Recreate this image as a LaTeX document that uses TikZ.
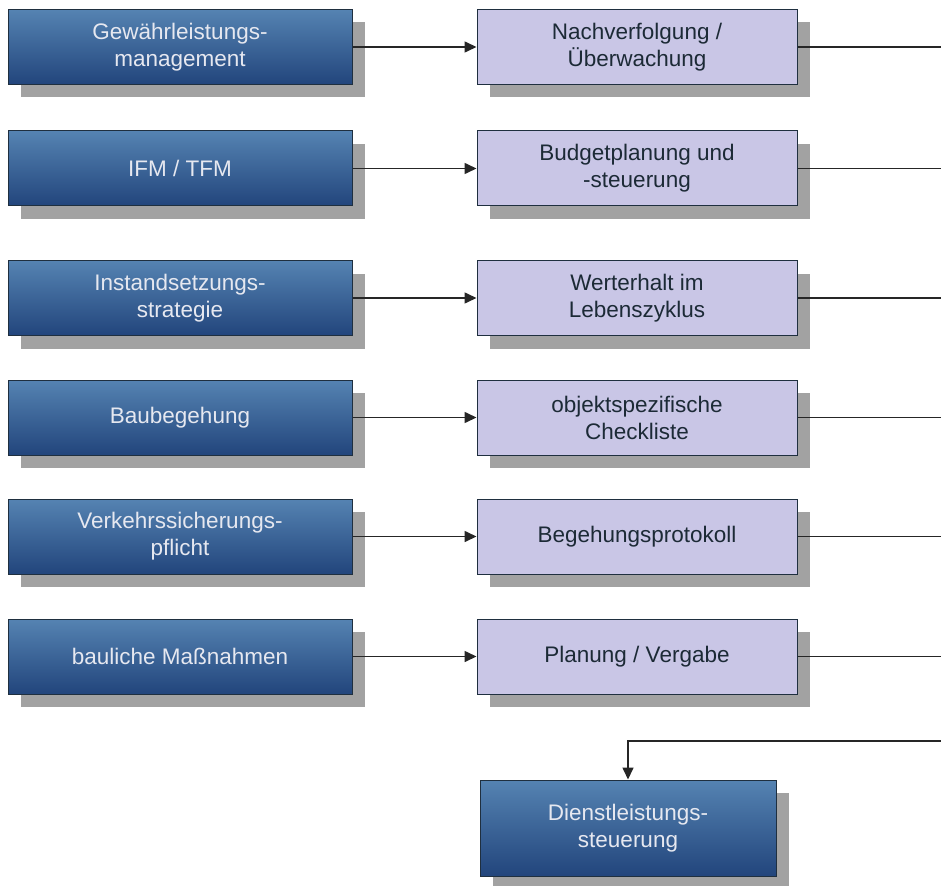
\documentclass[tikz,border=0pt]{standalone}
\usepackage{fontspec}
\setmainfont{Liberation Sans}
\usetikzlibrary{arrows.meta,shadows}
\definecolor{bluetop}{HTML}{5583B2}
\definecolor{bluebot}{HTML}{22457C}
\definecolor{lav}{HTML}{C9C6E6}
\definecolor{shadowgray}{HTML}{A2A2A2}
\definecolor{edgedark}{HTML}{1F2F3F}
\definecolor{lighttext}{HTML}{E6E8F0}
\definecolor{darktext}{HTML}{1C2A36}
\tikzset{
  x=1pt,y=-1pt,
  shadowed/.style={drop shadow={shadow xshift=13pt,shadow yshift=-13pt,fill=shadowgray,opacity=1}},
  bluebox/.style={shadowed,draw=edgedark,line width=1pt,top color=bluetop,bottom color=bluebot,
    text=lighttext,align=center,minimum height=75pt,inner sep=0pt,
    font=\fontsize{22.5}{27}\selectfont},
  lavbox/.style={shadowed,draw=edgedark,line width=1pt,fill=lav,
    text=darktext,align=center,minimum width=320pt,minimum height=75pt,inner sep=0pt,
    font=\fontsize{22.5}{27}\selectfont},
  leftbox/.style={bluebox,minimum width=344pt},
  conn/.style={line width=1.6pt,draw=black!85},
  arr/.style={conn,-{Triangle[length=12pt,width=11pt]}}
}
\begin{document}
\begin{tikzpicture}
\useasboundingbox (0,0) rectangle (941,885);
% left boxes
\node[leftbox] (l1) at (180,47) {Gewährleistungs-\\management};
\node[leftbox] (l2) at (180,168.5) {IFM / TFM};
\node[leftbox] (l3) at (180,298) {Instandsetzungs-\\strategie};
\node[leftbox] (l4) at (180,417.5) {Baubegehung};
\node[leftbox] (l5) at (180,536.5) {Verkehrssicherungs-\\pflicht};
\node[leftbox] (l6) at (180,656.5) {bauliche Maßnahmen};
% right boxes
\node[lavbox] (r1) at (637,47) {Nachverfolgung /\\Überwachung};
\node[lavbox] (r2) at (637,168.5) {Budgetplanung und\\-steuerung};
\node[lavbox] (r3) at (637,298) {Werterhalt im\\Lebenszyklus};
\node[lavbox] (r4) at (637,417.5) {objektspezifische\\Checkliste};
\node[lavbox] (r5) at (637,536.5) {Begehungsprotokoll};
\node[lavbox] (r6) at (637,656.5) {Planung / Vergabe};
% bottom box
\node[bluebox,minimum width=296pt,minimum height=96pt] (d) at (628,828) {Dienstleistungs-\\steuerung};
% arrows left to right
\foreach \i in {1,...,6}{
  \draw[arr] (l\i.east) -- (r\i.west);
  \coordinate (e\i) at (r\i.east -| 941,0);
  \draw[conn] (r\i.east) -- (e\i);
}
\coordinate (b0) at (941,741);
\draw[arr] (b0) -- (b0 -| d.north) -- (d.north);
\end{tikzpicture}
\end{document}
